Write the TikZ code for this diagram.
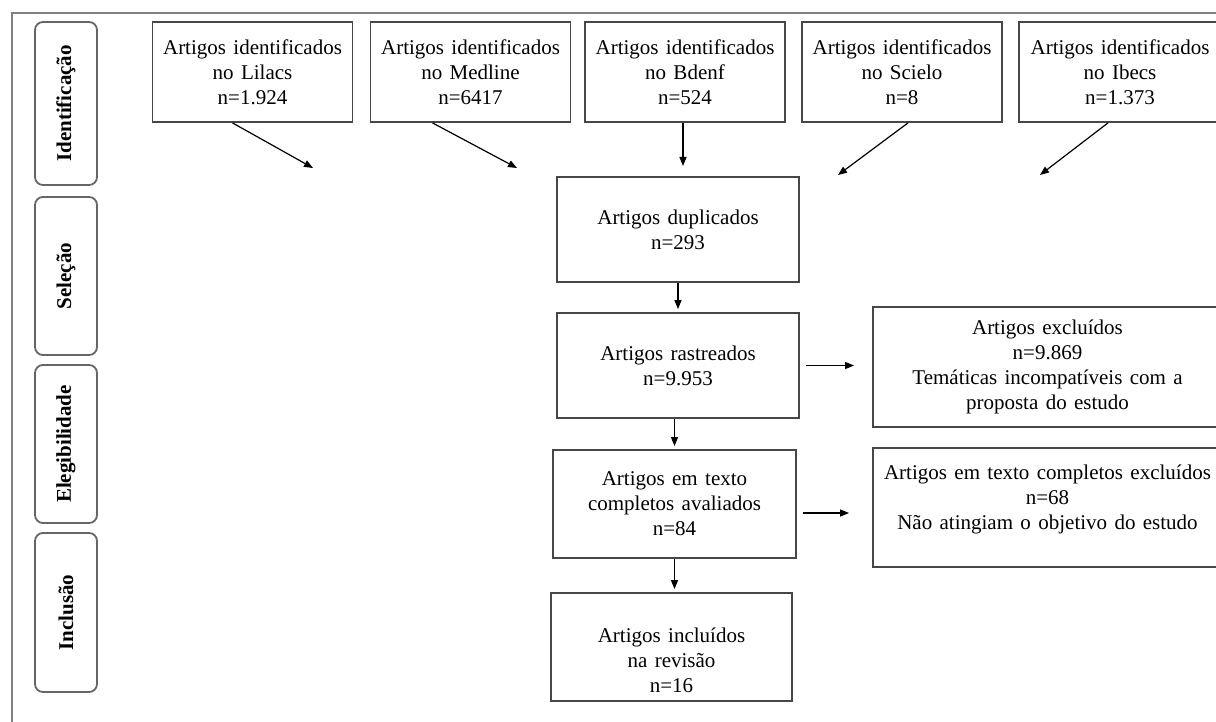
\documentclass[tikz,border=0pt]{standalone}
\usepackage{fontspec}
\setmainfont{Liberation Serif}
\usetikzlibrary{arrows.meta}

\begin{document}
\begin{tikzpicture}[x=0.5pt,y=-0.5pt,
  font={\fontsize{10.5}{12.5}\selectfont\spaceskip=0.35em plus 0.1em\relax},
  box/.style={draw=black!72,line width=0.9pt,align=center,inner sep=2pt},
  src/.style={box,minimum width=100pt,minimum height=50pt},
  etapa/.style={draw=black!60,line width=0.9pt,rounded corners=4pt,rotate=90,
    minimum width=#1,minimum height=31pt,font={\fontsize{10.5}{12.5}\selectfont\bfseries}},
  arr/.style={-{Triangle[length=4.5pt,width=3.5pt]},line width=0.6pt}]
  \useasboundingbox (0,0) rectangle (1216,722);
  % frame
  \draw[black!50,line width=1.1pt] (12,740) -- (12,13) -- (1230,13);
  % phases
  \node[etapa=81.5pt] (ident) at (66,103.5) {Identificação};
  \node[etapa=79pt] (sel) at (66,276) {Seleção};
  \node[etapa=79pt] (eleg) at (66,444) {Elegibilidade};
  \node[etapa=79.5pt] (inc) at (66,612.5) {Inclusão};
  % databases
  \node[src] (lilacs) at (252.5,72) {Artigos identificados\\no Lilacs\\n=1.924};
  \node[src] (medline) at (470.5,72) {Artigos identificados\\no Medline\\n=6417};
  \node[src] (bdenf) at (685,72) {Artigos identificados\\no Bdenf\\n=524};
  \node[src] (scielo) at (902,72) {Artigos identificados\\no Scielo\\n=8};
  \node[src,minimum width=101pt] (ibecs) at (1120,72) {Artigos identificados\\no Ibecs\\n=1.373};
  \coordinate (e1) at (313,168);
  \coordinate (e2) at (517,168);
  \coordinate (e3) at (683,166);
  \coordinate (e4) at (838,175);
  \coordinate (e5) at (1040,175);
  \draw[arr] ([xshift=-10pt]lilacs.south) -- (e1);
  \draw[arr] ([xshift=-19pt]medline.south) -- (e2);
  \draw[arr] ([xshift=-1pt]bdenf.south) -- (e3);
  \draw[arr] ([xshift=3pt]scielo.south) -- (e4);
  \draw[arr] ([xshift=-6pt]ibecs.south) -- (e5);
  % flow
  \node[box,minimum width=121pt,minimum height=52.5pt] (dup) at (678,229.5) {Artigos duplicados\\n=293};
  \node[box,minimum width=121pt,minimum height=52.5pt] (rast) at (678,365.5) {Artigos rastreados\\n=9.953};
  \node[box,minimum width=121.5pt,minimum height=54pt] (texto) at (674.5,504) {Artigos em texto\\completos avaliados\\n=84};
  \node[box,minimum width=120.5pt,minimum height=54pt] (incl) at (671.5,647) {\rule{0pt}{21pt}Artigos incluídos\\na revisão\\n=16};
  \node[box,minimum width=174.5pt,minimum height=60pt] (excl1) at (1047.5,367) {Artigos excluídos\\n=9.869\\Temáticas incompatíveis com a\\proposta do estudo};
  \node[box,minimum width=174.5pt,minimum height=59.5pt] (excl2) at (1047.5,507.5) {Artigos em texto completos excluídos\\n=68\\Não atingiam o objetivo do estudo\rule[-10pt]{0pt}{10pt}};
  \draw[arr,shorten >=1.5pt] (dup.south -| rast.north) -- (rast.north);
  \draw[arr,shorten >=1.5pt] (rast.south -| texto.north) -- (texto.north);
  \draw[arr,shorten >=1.5pt] (texto.south) -- (incl.north -| texto.south);
  \draw[arr,shorten <=3pt,shorten >=9pt] (rast.east) -- (rast.east -| excl1.west);
  \draw[arr,shorten <=3pt,shorten >=11.5pt] ([yshift=-4.5pt]texto.east) -- ([yshift=-4.5pt]texto.east -| excl2.west);
\end{tikzpicture}
\end{document}
